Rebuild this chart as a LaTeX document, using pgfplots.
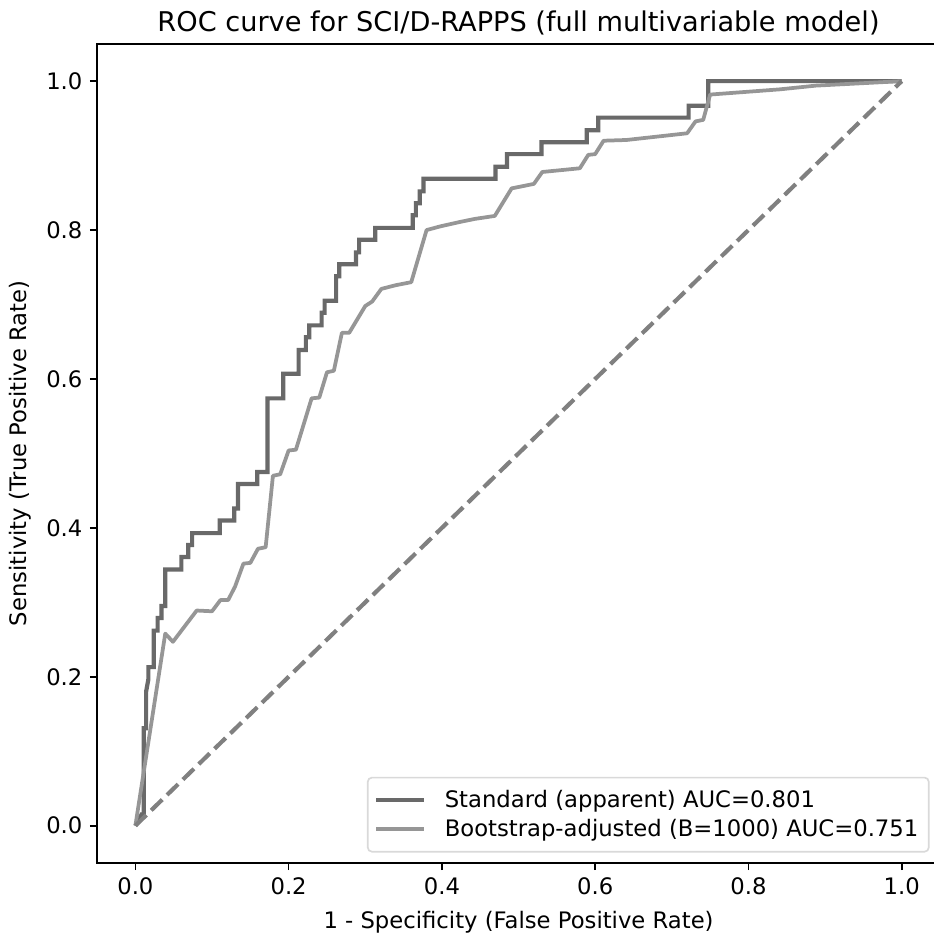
\documentclass[border=0pt]{standalone}
\usepackage{fontspec}
\setmainfont{DejaVu Sans}
\usepackage{pgfplots}
\pgfplotsset{compat=1.18}
\definecolor{stdc}{RGB}{105,105,105}
\definecolor{bootc}{RGB}{150,150,150}
\definecolor{diagc}{RGB}{128,128,128}
\begin{document}
\begin{tikzpicture}
\begin{axis}[
  scale only axis,
  width=404.7pt, height=393.2pt,
  xmin=-0.05, xmax=1.05, ymin=-0.05, ymax=1.05,
  xtick={0,0.2,0.4,0.6,0.8,1.0},
  ytick={0,0.2,0.4,0.6,0.8,1.0},
  xticklabels={0.0,0.2,0.4,0.6,0.8,1.0},
  yticklabels={0.0,0.2,0.4,0.6,0.8,1.0},
  /pgf/number format/assume math mode=true,
  tick align=outside,
  major tick length=3.5pt,
  tick style={black, line width=0.8pt},
  xtick pos=bottom, ytick pos=left,
  axis line style={line width=0.8pt},
  ticklabel style={font=\fontsize{10.9}{13}\selectfont},
  title={ROC curve for SCI/D-RAPPS (full multivariable model)},
  title style={at={(0.5,1)}, anchor=base, inner sep=0pt, font=\fontsize{13.05}{15}\selectfont},
  xlabel={1 - Specificity (False Positive Rate)},
  ylabel={Sensitivity (True Positive Rate)},
  every axis x label/.style={at={(axis description cs:0.5,0)}, anchor=center, yshift=-28.5pt, font=\fontsize{10.9}{13}\selectfont},
  every axis y label/.style={at={(axis description cs:-0.0914,0.5)}, anchor=center, rotate=90, font=\fontsize{10.9}{13}\selectfont},
  legend style={at={(1,0)}, anchor=south east, xshift=-5pt, yshift=5pt,
    draw=black!15, line width=0.8pt, rounded corners=2pt, fill=white, fill opacity=0.8, text opacity=1,
    font=\fontsize{10.9}{13}\selectfont, inner xsep=3pt, inner ysep=4pt, row sep=0pt,
    /tikz/every odd column/.append style={column sep=7pt}},
  legend cell align=left,
  legend image code/.code={\draw[#1] (0pt,0pt) -- (23pt,0pt);},
  clip=true,
]
\addplot[stdc, line width=2pt, line join=miter] coordinates {
(0,0) (0.008,0.015) (0.011,0.015) (0.011,0.131) (0.014,0.131) (0.014,0.180) (0.017,0.197)
(0.017,0.213) (0.024,0.213) (0.024,0.262) (0.029,0.262) (0.029,0.279) (0.034,0.279)
(0.034,0.295) (0.039,0.295) (0.039,0.344) (0.060,0.344) (0.060,0.361) (0.069,0.361)
(0.069,0.377) (0.074,0.377) (0.074,0.393) (0.110,0.393) (0.110,0.410) (0.129,0.410)
(0.129,0.426) (0.134,0.426) (0.134,0.459) (0.159,0.459) (0.159,0.475) (0.1725,0.475)
(0.1725,0.574) (0.193,0.574) (0.193,0.607) (0.213,0.607) (0.213,0.639) (0.2225,0.639)
(0.2225,0.656) (0.227,0.656) (0.227,0.672) (0.243,0.672) (0.243,0.689) (0.247,0.689)
(0.247,0.705) (0.262,0.705) (0.262,0.738) (0.266,0.738) (0.266,0.754) (0.288,0.754)
(0.288,0.770) (0.292,0.770) (0.292,0.787) (0.313,0.787) (0.313,0.803) (0.362,0.803)
(0.362,0.820) (0.366,0.820) (0.366,0.836) (0.371,0.836) (0.371,0.852) (0.376,0.852)
(0.376,0.869) (0.470,0.869) (0.470,0.885) (0.485,0.885) (0.485,0.902) (0.530,0.902)
(0.530,0.918) (0.589,0.918) (0.589,0.934) (0.604,0.934) (0.604,0.951) (0.722,0.951)
(0.722,0.967) (0.7475,0.967) (0.7475,1.0) (1,1)
};
\addlegendentry{Standard (apparent) AUC=0.801}
\addplot[bootc, line width=1.8pt, line join=round] coordinates {
(0,0) (0.039,0.258) (0.049,0.247) (0.080,0.289) (0.100,0.288) (0.111,0.303) (0.121,0.303)
(0.130,0.321) (0.141,0.352) (0.150,0.353) (0.160,0.372) (0.170,0.374) (0.1795,0.470)
(0.189,0.472) (0.200,0.504) (0.2095,0.505) (0.230,0.574) (0.240,0.575) (0.250,0.609)
(0.259,0.611) (0.2695,0.662) (0.279,0.662) (0.300,0.698) (0.309,0.704) (0.321,0.721)
(0.340,0.726) (0.360,0.730) (0.380,0.800) (0.398,0.805) (0.424,0.811) (0.443,0.815)
(0.469,0.819) (0.491,0.856) (0.520,0.862) (0.531,0.878) (0.580,0.883) (0.591,0.901)
(0.600,0.902) (0.611,0.920) (0.641,0.921) (0.720,0.930) (0.731,0.946) (0.741,0.948)
(0.750,0.982) (0.841,0.989) (0.888,0.994) (1,1)
};
\addlegendentry{Bootstrap-adjusted (B=1000) AUC=0.751}
\addplot[diagc, line width=2pt, dash pattern=on 7.4pt off 3.2pt, forget plot] coordinates {(0,0) (1,1)};
\end{axis}
\pgfresetboundingbox
\path (current axis.south west) ++(-46.6pt,-34.6pt) rectangle ++(448.4pt,448.9pt);
\end{tikzpicture}
\end{document}
